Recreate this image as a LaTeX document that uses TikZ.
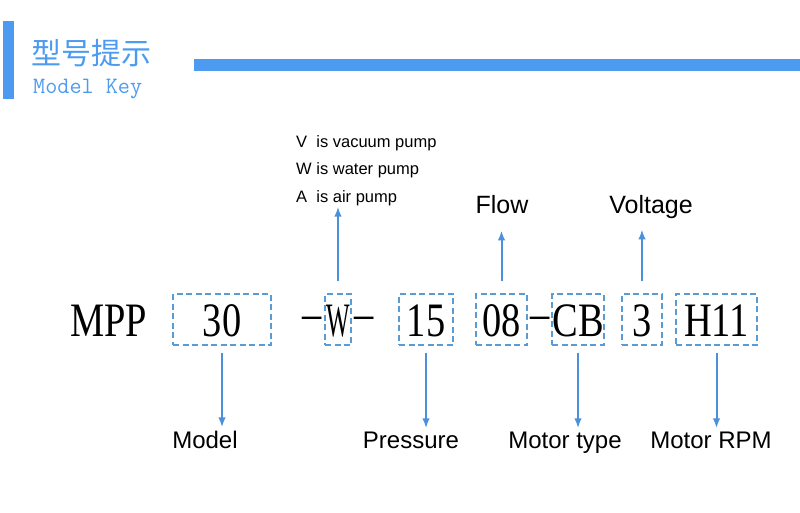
\documentclass[tikz,border=0pt]{standalone}
\usepackage{fontspec}
\setmainfont{Liberation Sans}
\newfontfamily\cjkfont{Noto Sans CJK SC}
\newfontfamily\codefont[FakeStretch=0.8]{Liberation Serif}
\usepackage{xcolor}
\usetikzlibrary{arrows.meta, calc, positioning}

\definecolor{barblue}{HTML}{4D9BF0}
\definecolor{boxblue}{HTML}{5B9BD5}
\definecolor{arrowblue}{HTML}{4A90DA}

\begin{document}
\begin{tikzpicture}[x=1pt, y=-1pt,
        codebox/.style={draw=boxblue, line width=2pt, dash pattern=on 6pt off 3.5pt, minimum height=51pt, inner sep=0pt, font=\codefont\fontsize{48}{48}\selectfont, text height=33pt, text depth=0pt},
        codetext/.style={inner sep=0pt, font=\codefont\fontsize{48}{48}\selectfont, text height=33pt, text depth=0pt},
        keylabel/.style={inner sep=0pt, anchor=base, font=\fontsize{24}{24}\selectfont},
        listlabel/.style={inner sep=0pt, anchor=base west, font=\fontsize{16.5}{16.5}\selectfont},
        keyarrow/.style={draw=arrowblue, line width=2pt, -{Latex[length=10pt, width=7.5pt]}}]

                \useasboundingbox (0,0) rectangle (800,512);
                \coordinate (A) at (0, 0);

                % header
                \draw[draw=none, fill=barblue] ($ (A) + (3, 21) $) rectangle ++(11, 78);
                \draw[draw=none, fill=barblue] ($ (A) + (194, 59) $) rectangle ++(606, 12);
                \node[anchor=base west, inner sep=0pt, text=barblue, font=\cjkfont\fontsize{30}{30}\selectfont] (title) at ($ (A) + (31, 64) $) {型号提示};
                \node[anchor=base west, inner sep=0pt, text=barblue, font=\ttfamily\fontsize{23.5}{23.5}\selectfont] (subtitle) at ($ (A) + (33, 93) $) {Model Key};

                % model code
                \node[codetext] (mpp) at ($ (A) + (108.5, 319.5) $) {MPP};
                \node[codebox, minimum width=98pt] (series) at ($ (A) + (222, 319.5) $) {30};
                \node[codebox, minimum width=26pt] (medium) at ($ (A) + (338, 319.5) $) {\scalebox{0.65}[1]{W}};
                \node[codetext, left=2pt of medium] (dashA) {\raisebox{7pt}{–}};
                \node[codetext, right=2pt of medium] (dashB) {\raisebox{7pt}{–}};
                \node[codebox, minimum width=54pt] (pressure) at ($ (A) + (426, 319.5) $) {15};
                \node[codebox, minimum width=51pt] (flow) at ($ (A) + (501.5, 319.5) $) {08};
                \node[codebox, minimum width=50pt] (motor) at ($ (A) + (578, 319.5) $) {CB};
                \node[codetext] (dashC) at ($ (flow.east)!0.5!(motor.west) $) {\raisebox{7pt}{–}};
                \node[codebox, minimum width=40pt] (voltage) at ($ (A) + (642, 319.5) $) {3};
                \node[codebox, minimum width=81pt] (rpm) at ($ (A) + (716.5, 319.5) $) {H11};

                % medium list
                \node[listlabel] (listV) at ($ (A) + (296, 147) $) {V\ \ is vacuum pump};
                \node[listlabel] (listW) at ($ (A) + (296, 174.5) $) {W is water pump};
                \node[listlabel] (listA) at ($ (A) + (296, 202) $) {A\ \ is air pump};

                % top labels
                \node[keylabel, font=\fontsize{25}{25}\selectfont] (flowlabel) at ($ (A) + (502, 213) $) {Flow};
                \node[keylabel, font=\fontsize{25}{25}\selectfont] (voltlabel) at ($ (A) + (651, 213) $) {Voltage};

                % bottom labels
                \node[keylabel] (modellabel) at ($ (A) + (205, 448) $) {Model};
                \node[keylabel] (presslabel) at ($ (A) + (411, 448) $) {Pressure};
                \node[keylabel] (motorlabel) at ($ (A) + (565, 448) $) {Motor type};
                \node[keylabel] (rpmlabel) at ($ (A) + (711, 448) $) {Motor RPM};

                % arrows up
                \draw[keyarrow, shorten <=12pt, shorten >=1pt] (medium.north) -- (medium.north |- listA.south);
                \draw[keyarrow, shorten <=12pt, shorten >=17pt] (flow.north) -- (flow.north |- flowlabel.south);
                \draw[keyarrow, shorten <=12pt, shorten >=11pt] (voltage.north) -- (voltage.north |- voltlabel.south);

                % arrows down
                \draw[keyarrow, shorten <=7pt, shorten >=3pt] (series.south) -- (series.south |- modellabel.north);
                \draw[keyarrow, shorten <=7pt, shorten >=3pt] (pressure.south) -- (pressure.south |- presslabel.north);
                \draw[keyarrow, shorten <=7pt, shorten >=3pt] (motor.south) -- (motor.south |- motorlabel.north);
                \draw[keyarrow, shorten <=7pt, shorten >=3pt] (rpm.south) -- (rpm.south |- rpmlabel.north);

\end{tikzpicture}
\end{document}
